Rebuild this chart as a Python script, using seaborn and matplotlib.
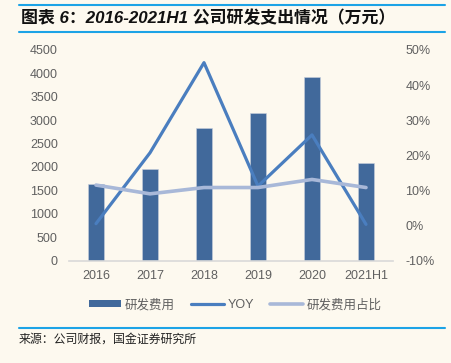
import matplotlib
matplotlib.use('Agg')
import pandas as pd
import numpy as np
import seaborn as sns
import matplotlib.pyplot as plt
from matplotlib.patches import Patch
from matplotlib.lines import Line2D

# 数据
years = ['2016', '2017', '2018', '2019', '2020', '2021H1']
rd_cost = [1630, 1960, 2840, 3150, 3930, 2090]      # 研发费用（万元）
yoy = [0.5, 20.7, 46.4, 11.2, 25.8, 0.3]             # YOY (%)
rd_share = [11.5, 9.0, 10.8, 10.8, 13.1, 10.8]       # 研发费用占比 (%)
left_ticks = list(range(0, 5000, 500))
right_ticks = list(range(-10, 60, 10))

bg = '#FDF9EF'
bar_color = '#41699B'
yoy_color = '#4A7EBF'
share_color = '#A8B8D8'
txt_color = '#606060'

sns.set_theme(style='white')
plt.rcParams['font.family'] = ['Liberation Sans', 'Noto Sans CJK SC', 'DejaVu Sans']

df = pd.DataFrame({'year': years, 'cost': rd_cost, 'yoy': yoy, 'share': rd_share})
df['pos'] = np.arange(len(df))

W, H = 451, 363
fig = plt.figure(figsize=(W / 100, H / 100), dpi=100, facecolor=bg)
ax = fig.add_axes([69 / W, 1 - 260.5 / H, (393 - 69) / W, (260.5 - 50) / H])
ax.set_facecolor(bg)

# 柱状图
sns.barplot(data=df, x='year', y='cost', ax=ax, color=bar_color, width=0.31,
            saturation=1, edgecolor='#C8D0DC', linewidth=0.4)
ax.set_ylim(0, 4500)
ax.set_yticks(left_ticks)
ax.set_xlim(-0.5, len(years) - 0.5)
ax.set_xlabel('')
ax.set_ylabel('')
for s in ['top', 'left', 'right']:
    ax.spines[s].set_visible(False)
ax.spines['bottom'].set_color('#D9D9D9')
ax.spines['bottom'].set_linewidth(1.2)
ax.tick_params(axis='both', length=0, labelsize=9, labelcolor=txt_color)
ax.tick_params(axis='y', pad=8)
ax.tick_params(axis='x', pad=7)

# 折线（右轴）
ax2 = ax.twinx()
sns.lineplot(data=df, x='pos', y='yoy', ax=ax2, color=yoy_color, linewidth=2.3,
             sort=False, solid_capstyle='round')
sns.lineplot(data=df, x='pos', y='share', ax=ax2, color=share_color, linewidth=2.6,
             sort=False, solid_capstyle='round')
ax2.set_ylim(-10, 50)
ax2.set_yticks(right_ticks)
ax2.set_yticklabels([f'{t}%' for t in right_ticks])
ax2.set_xlim(-0.5, len(years) - 0.5)
ax2.set_xlabel('')
ax2.set_ylabel('')
for s in ax2.spines.values():
    s.set_visible(False)
ax2.tick_params(axis='y', length=0, labelsize=9, labelcolor=txt_color, pad=9)
ax.set_xticks(range(len(years)))
ax.set_xticklabels(years)

# 图例
handles = [Patch(facecolor=bar_color, edgecolor='none'),
           Line2D([], [], color=yoy_color, lw=2.3),
           Line2D([], [], color=share_color, lw=2.6)]
labels = ['研发费用', 'YOY', '研发费用占比']
fig.legend(handles, labels, loc='center', bbox_to_anchor=(235 / W, 1 - 305 / H),
           ncol=3, frameon=False, fontsize=9, labelcolor=txt_color,
           handlelength=2.6, handleheight=0.5, handletextpad=0.3, columnspacing=1.3)

# 标题、分隔线、来源
line_color = '#1CA3E6'
for y in [5, 32, 328]:
    fig.add_artist(Line2D([19 / W, 445 / W], [1 - y / H, 1 - y / H], color=line_color, lw=1.5))
fig.text(21 / W, 1 - 18 / H, '图表 6：2016-2021H1 公司研发支出情况（万元）', fontsize=12.2,
         fontweight='bold', style='italic', va='center', color='#111111')
fig.text(19 / W, 1 - 340 / H, '来源：公司财报，国金证券研究所', fontsize=8.6, va='center', color='#222222')

fig.savefig('out.png', dpi=100, facecolor=bg)
